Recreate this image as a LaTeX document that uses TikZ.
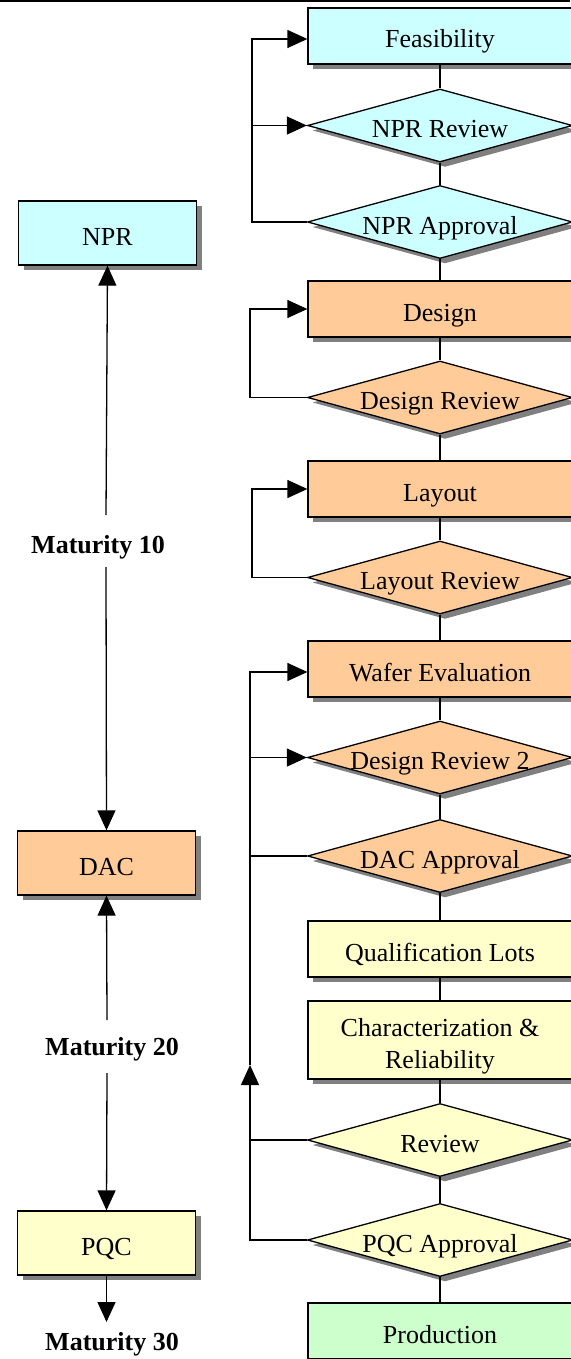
\documentclass[tikz,border=0pt]{standalone}
\usepackage{fontspec}
\setmainfont{Liberation Serif}
\usetikzlibrary{shapes.geometric,shadows,arrows.meta}
\definecolor{cy}{HTML}{CCFFFF}
\definecolor{orng}{HTML}{FFCC99}
\definecolor{yel}{HTML}{FFFFCC}
\definecolor{grn}{HTML}{CCFFCC}
\begin{document}
\begin{tikzpicture}[x=1pt,y=-1pt,
  base/.style={draw=black, line width=1.3pt, text=black, font=\fontsize{26}{32}\selectfont,
    inner sep=0pt, text height=24pt, text depth=0pt,
    drop shadow={shadow xshift=5pt, shadow yshift=-5pt, fill=black!50, opacity=1}},
  rbox/.style={base, rectangle, minimum width=264pt, minimum height=56pt},
  rdia/.style={base, diamond, minimum width=265pt, minimum height=73pt},
  lbox/.style={base, rectangle, minimum width=178pt, minimum height=64pt},
  mlabel/.style={font=\bfseries\fontsize{26}{32}\selectfont, inner sep=0pt, anchor=base, text=black},
  conn/.style={line width=1.3pt, draw=black},
  arr/.style={conn, -{Triangle[length=20pt,width=18pt]}},
]
\useasboundingbox (0,0) rectangle (570,1359);
\draw[line width=1.5pt] (0,1) -- (570,1);

% right column
\node[rbox, fill=cy] (feas) at (440,36) {Feasibility};
\node[rdia, fill=cy] (nprrev) at (440,125.5) {\makebox[0pt]{NPR Review}};
\node[rdia, fill=cy] (nprapp) at (440,222) {\makebox[0pt]{NPR Approval}};
\node[rbox, fill=orng] (design) at (440,309) {Design};
\node[rdia, fill=orng] (desrev) at (440,397.5) {\makebox[0pt]{Design Review}};
\node[rbox, fill=orng] (layout) at (440,489) {Layout};
\node[rdia, fill=orng] (layrev) at (440,577.5) {\makebox[0pt]{Layout Review}};
\node[rbox, fill=orng] (wafer) at (440,669) {Wafer Evaluation};
\node[rdia, fill=orng] (desrev2) at (440,757.5) {\makebox[0pt]{Design Review 2}};
\node[rdia, fill=orng] (dacapp) at (440,856) {\makebox[0pt]{DAC Approval}};
\node[rbox, fill=yel] (qual) at (440,949) {Qualification Lots};
\node[rbox, fill=yel, minimum height=78pt, align=center, text height=56pt, text depth=0pt] (char) at (440,1040) {Characterization \&\\Reliability};
\node[rdia, fill=yel] (review) at (440,1140) {\makebox[0pt]{Review}};
\node[rdia, fill=yel] (pqcapp) at (440,1240) {\makebox[0pt]{PQC Approval}};
\node[rbox, fill=grn] (prod) at (440,1331) {Production};

\draw[conn] (feas.south) -- (nprrev.north);
\draw[conn] (nprrev.south) -- (nprapp.north);
\draw[conn] (nprapp.south) -- (design.north);
\draw[conn] (design.south) -- (desrev.north);
\draw[conn] (desrev.south) -- (layout.north);
\draw[conn] (layout.south) -- (layrev.north);
\draw[conn] (layrev.south) -- (wafer.north);
\draw[conn] (wafer.south) -- (desrev2.north);
\draw[conn] (desrev2.south) -- (dacapp.north);
\draw[conn] (dacapp.south) -- (qual.north);
\draw[conn] (qual.south) -- (char.north);
\draw[conn] (char.south) -- (review.north);
\draw[conn] (review.south) -- (pqcapp.north);
\draw[conn] (pqcapp.south) -- (prod.north);

% feedback loops
\coordinate (c1) at (252,0);
\coordinate (c2) at (250,0);
\coordinate (c3) at (252,0);
\coordinate (c4) at (250,0);
\coordinate (up4) at (250,1065);
\draw[arr] (nprapp.west) -- (nprapp.west -| c1) |- ([yshift=-3pt]feas.west);
\draw[arr] (nprrev.west -| c1) -- (nprrev.west);
\draw[arr] (desrev.west) -- (desrev.west -| c2) |- (design.west);
\draw[arr] (layrev.west) -- (layrev.west -| c3) |- (layout.west);
\draw[arr] (pqcapp.west) -- (pqcapp.west -| c4) -- (up4);
\draw[arr] (up4) |- ([yshift=-3pt]wafer.west);
\draw[arr] (desrev2.west -| c4) -- (desrev2.west);
\draw[conn] (dacapp.west) -- (dacapp.west -| c4);
\draw[conn] (review.west) -- (review.west -| c4);

% left column
\node[lbox, fill=cy] (npr) at (107.5,233) {NPR};
\node[lbox, fill=orng] (dac) at (106.5,863) {DAC};
\node[lbox, fill=yel] (pqc) at (106.5,1243) {PQC};
\node[mlabel] (m10) at (98,553) {Maturity 10};
\node[mlabel] (m20) at (112,1055) {Maturity 20};
\node[mlabel] (m30) at (112,1350) {Maturity 30};
\coordinate (m10t) at (106,515);
\coordinate (m10b) at (106,567);
\coordinate (m20t) at (107,1020);
\coordinate (m20b) at (107,1073);
\coordinate (m30t) at (106.5,1322);
\draw[arr] (m10t) -- (npr.south);
\draw[arr] (m10b) -- (dac.north);
\draw[arr] (m20t) -- (dac.south);
\draw[arr] (m20b) -- (pqc.north);
\draw[arr] (pqc.south) -- (m30t);
\end{tikzpicture}
\end{document}
